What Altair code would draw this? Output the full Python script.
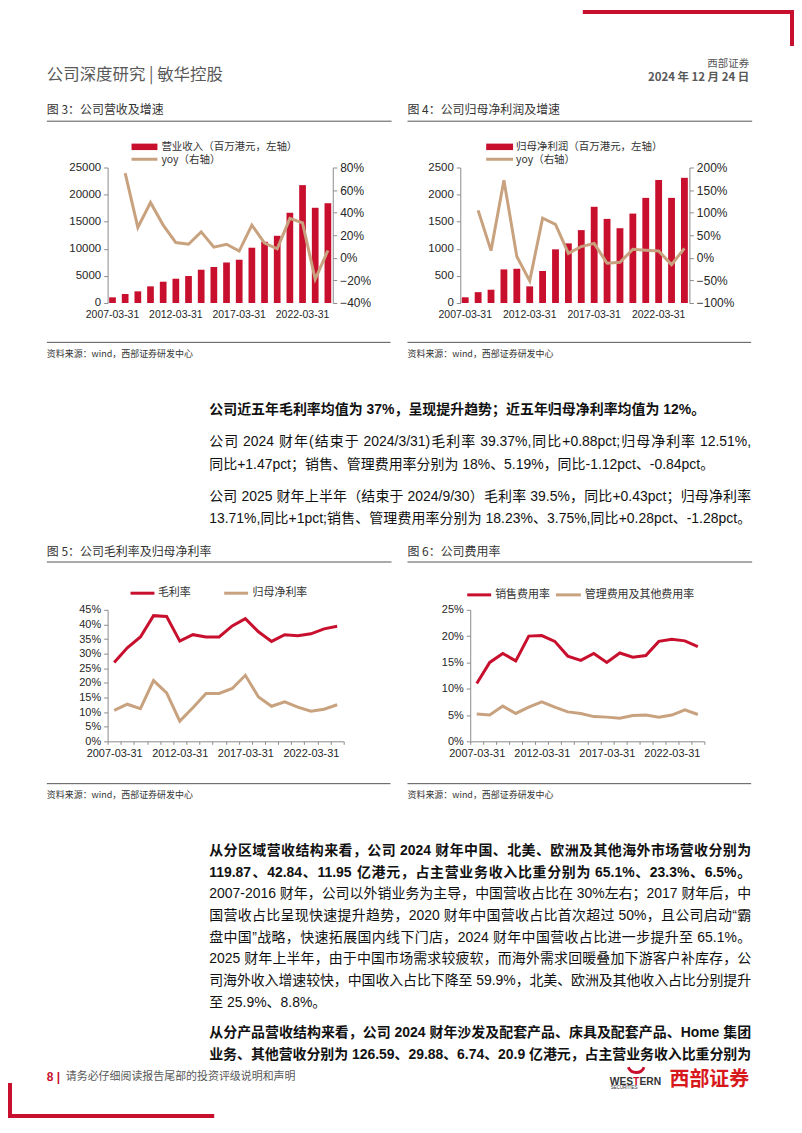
import json
import altair as alt
import pandas as pd

# ---------------- data ----------------
dates = ["2007-03-31", "2008-03-31", "2009-03-31", "2010-03-31", "2011-03-31", "2012-03-31",
         "2013-03-31", "2014-03-31", "2015-03-31", "2016-03-31", "2017-03-31", "2018-03-31",
         "2019-03-31", "2020-03-31", "2021-03-31", "2022-03-31", "2023-03-31", "2024-03-31"]
shown_dates = ["2007-03-31", "2012-03-31", "2017-03-31", "2022-03-31"]

revenue = [1040, 1660, 2150, 3070, 3930, 4480, 4975, 6140, 6630, 7490, 7985, 10200,
           11300, 12400, 16650, 21750, 17570, 18410]
revenue_yoy = [None, 0.75, 0.27, 0.49, 0.29, 0.135, 0.12, 0.23, 0.095, 0.12, 0.06, 0.29,
               0.13, 0.08, 0.35, 0.31, -0.19, 0.065]

profit = [105, 200, 245, 620, 632, 307, 590, 990, 1100, 1345, 1775, 1552,
          1380, 1650, 1940, 2270, 1940, 2310]
profit_yoy = [None, 1.05, 0.16, 1.72, 0.03, -0.51, 0.88, 0.74, 0.10, 0.25, 0.32, -0.12,
              -0.10, 0.19, 0.17, 0.15, -0.15, 0.21]

gross_margin = [0.27, 0.32, 0.357, 0.43, 0.427, 0.343, 0.365, 0.357, 0.357, 0.395, 0.42, 0.375,
                0.342, 0.365, 0.361, 0.368, 0.385, 0.3937]
net_margin = [0.106, 0.127, 0.112, 0.208, 0.166, 0.069, 0.115, 0.164, 0.164, 0.181, 0.226, 0.152,
              0.12, 0.135, 0.117, 0.103, 0.11, 0.1251]

selling_ratio = [0.11, 0.15, 0.167, 0.153, 0.20, 0.201, 0.19, 0.162, 0.154, 0.167, 0.15, 0.168,
                 0.16, 0.163, 0.19, 0.194, 0.191, 0.18]
admin_ratio = [0.052, 0.05, 0.067, 0.053, 0.065, 0.075, 0.065, 0.056, 0.053, 0.047, 0.046, 0.044,
               0.049, 0.05, 0.046, 0.05, 0.06, 0.051]

rev_ticks = [0, 5000, 10000, 15000, 20000, 25000]
rev_yoy_ticks = [-0.4, -0.2, 0, 0.2, 0.4, 0.6, 0.8]
np_ticks = [0, 500, 1000, 1500, 2000, 2500]
np_yoy_ticks = [-1.0, -0.5, 0, 0.5, 1.0, 1.5, 2.0]
margin_ticks = [0, 0.05, 0.10, 0.15, 0.20, 0.25, 0.30, 0.35, 0.40, 0.45]
expense_ticks = [0, 0.05, 0.10, 0.15, 0.20, 0.25]

# ---------------- texts ----------------
header_left = "公司深度研究 | 敏华控股"
header_broker = "西部证券"
header_date = "2024 年 12 月 24 日"
fig_titles = ["图 3：公司营收及增速", "图 4：公司归母净利润及增速",
              "图 5：公司毛利率及归母净利率", "图 6：公司费用率"]
legend3 = ["营业收入（百万港元，左轴）", "yoy（右轴）"]
legend4 = ["归母净利润（百万港元，左轴）", "yoy（右轴）"]
legend5 = ["毛利率", "归母净利率"]
legend6 = ["销售费用率", "管理费用及其他费用率"]
source_text = "资料来源：wind，西部证券研发中心"

para1_bold = ["公司近五年毛利率均值为 37%，呈现提升趋势；近五年归母净利率均值为 12%。"]
para1_a = ["公司 2024 财年(结束于 2024/3/31)毛利率 39.37%,同比+0.88pct;归母净利率 12.51%,",
           "同比+1.47pct；销售、管理费用率分别为 18%、5.19%，同比-1.12pct、-0.84pct。"]
para1_b = ["公司 2025 财年上半年（结束于 2024/9/30）毛利率 39.5%，同比+0.43pct；归母净利率",
           "13.71%,同比+1pct;销售、管理费用率分别为 18.23%、3.75%,同比+0.28pct、-1.28pct。"]
para2_bold = ["从分区域营收结构来看，公司 2024 财年中国、北美、欧洲及其他海外市场营收分别为",
              "119.87、42.84、11.95 亿港元，占主营业务收入比重分别为 65.1%、23.3%、6.5%。"]
para2 = ["2007-2016 财年，公司以外销业务为主导，中国营收占比在 30%左右；2017 财年后，中",
         "国营收占比呈现快速提升趋势，2020 财年中国营收占比首次超过 50%，且公司启动“霸",
         "盘中国”战略，快速拓展国内线下门店，2024 财年中国营收占比进一步提升至 65.1%。",
         "2025 财年上半年，由于中国市场需求较疲软，而海外需求回暖叠加下游客户补库存，公",
         "司海外收入增速较快，中国收入占比下降至 59.9%，北美、欧洲及其他收入占比分别提升",
         "至 25.9%、8.8%。"]
para3_bold = ["从分产品营收结构来看，公司 2024 财年沙发及配套产品、床具及配套产品、Home 集团",
              "业务、其他营收分别为 126.59、29.88、6.74、20.9 亿港元，占主营业务收入比重分别为"]
footer_page = "8 |"
footer_text = "请务必仔细阅读报告尾部的投资评级说明和声明"
logo_en = ["WES", "T", "ERN"]
logo_en_sub = "SECURITIES"
logo_cn = "西部证券"

# ---------------- styles ----------------
CJK = "Noto Sans CJK SC"
NUM = "Liberation Sans"
BODY = "Liberation Sans, Noto Sans CJK SC"
RED = "#C8102E"
TAN = "#C8A27E"
AX = "#8c8c8c"
LAB = "#262626"
INK = "#111111"
GRAY = "#595959"
SUB = "#333333"

TEXT_LEFT, TEXT_RIGHT = 210, 754

# Arial-metric advance widths (em) used for justified paragraph layout
W_REG = {"0": .556, "1": .556, "2": .556, "3": .556, "4": .556, "5": .556, "6": .556,
         "7": .556, "8": .556, "9": .556, ".": .278, ",": .278, ";": .278, ":": .278,
         "%": .889, "+": .584, "-": .333, "/": .278, "(": .333, ")": .333, "p": .556,
         "c": .5, "t": .278, "H": .722, "o": .556, "m": .833, "e": .556, " ": .278,
         "“": .333, "”": .333}
W_BOLD = dict(W_REG, **{"p": .611, "c": .556, "t": .333, "o": .611, "m": .889, ";": .333,
                        ":": .333})

ONE = pd.DataFrame({"k": [0]})
label_expr = f"indexof({json.dumps(shown_dates)}, datum.value) >= 0 ? datum.value : ''"


def layout_line(line, y, size, bold, justify):
    """Split a line into CJK characters and Latin runs, optionally justified."""
    table = W_BOLD if bold else W_REG
    toks, run = [], ""
    for c in line:
        if c == " ":
            if run:
                toks.append(run)
                run = ""
            toks.append(" ")
        elif ord(c) < 128:
            run += c
        else:
            if run:
                toks.append(run)
                run = ""
            toks.append(c)
    if run:
        toks.append(run)
    placed, cursor = [], 0.0
    for t in toks:
        if t == " ":
            cursor += table[" "] * size
            continue
        placed.append([t, cursor])
        cursor += sum(table.get(ch, 1.0 if ord(ch) > 255 else 0.556) for ch in t) * size
    extra = 0.0
    if justify and len(placed) > 1:
        extra = ((TEXT_RIGHT - TEXT_LEFT) - cursor) / (len(placed) - 1)
    return [{"t": t, "x": TEXT_LEFT + x + i * extra, "y": y} for i, (t, x) in enumerate(placed)]


class Panel:
    """Text / rule / rect items given in page coordinates.
    origin_y: page y of the panel origin; band: page y-range the row occupies."""

    def __init__(self, origin_y, band_top, band_bottom, width=786, height=None):
        self.oy = origin_y
        self.width = width
        self.height = height if height is not None else band_bottom - band_top
        self.items = [
            alt.Chart(ONE).mark_rect(opacity=0).encode(
                x=alt.value(0), x2=alt.value(780),
                y=alt.value(band_top - origin_y), y2=alt.value(band_bottom - origin_y))
        ]
        self.body = {False: [], True: []}

    def text(self, s, x, y, size=14, color=INK, weight="normal", align="left", font=CJK):
        self.items.append(
            alt.Chart(ONE).mark_text(text=s, fontSize=size, color=color, fontWeight=weight,
                                     align=align, baseline="middle", font=font)
            .encode(x=alt.value(x - 8), y=alt.value(y - self.oy)))

    def para(self, lines, ys, bold=False, justify_last=False):
        for i, (line, y) in enumerate(zip(lines, ys)):
            just = (i < len(lines) - 1) or justify_last
            self.body[bold] += layout_line(line, y, 14, bold, just)

    def hline(self, x1, x2, y, color="#555555", width=1.0):
        self.items.append(
            alt.Chart(ONE).mark_rule(color=color, strokeWidth=width)
            .encode(x=alt.value(x1 - 8), x2=alt.value(x2 - 8), y=alt.value(y - self.oy)))

    def rect(self, x1, x2, y1, y2, color=RED):
        self.items.append(
            alt.Chart(ONE).mark_rect(color=color)
            .encode(x=alt.value(x1 - 8), x2=alt.value(x2 - 8),
                    y=alt.value(y1 - self.oy), y2=alt.value(y2 - self.oy)))

    def arc(self, cx, cy, r1, r2, t1, t2, color=RED):
        self.items.append(
            alt.Chart(ONE).mark_arc(radius=r1, radius2=r2, theta=t1, theta2=t2, color=color)
            .encode(x=alt.value(cx - 8), y=alt.value(cy - self.oy)))

    def chart(self):
        items = list(self.items)
        for bold, rows in self.body.items():
            if not rows:
                continue
            df = pd.DataFrame(rows)
            df["x"] = df["x"] - 8
            df["y"] = df["y"] - self.oy
            items.append(
                alt.Chart(df).mark_text(align="left", baseline="middle", fontSize=14,
                                        font=BODY, color=INK,
                                        fontWeight="bold" if bold else "normal")
                .encode(x=alt.X("x:Q", scale=None, axis=None),
                        y=alt.Y("y:Q", scale=None, axis=None), text="t:N"))
        return alt.layer(*items).properties(width=self.width, height=self.height)


def spacer(w, h):
    return alt.Chart(ONE).mark_rect(opacity=0).encode(
        x=alt.value(0), x2=alt.value(w), y=alt.value(0), y2=alt.value(h)
    ).properties(width=w, height=h)


def left_axis(values, fmt, size):
    return alt.Axis(values=values, format=fmt, title=None, grid=False, domainColor=AX,
                    tickColor=AX, tickSize=4, labelFont=NUM, labelFontSize=size,
                    labelColor=LAB, labelPadding=3)


def bar_line_chart(vals, yoy, ydom, yticks, rdom, rticks, width, height):
    df = pd.DataFrame({"date": dates, "v": vals, "yoy": yoy})
    xenc = alt.X("date:O", sort=dates,
                 scale=alt.Scale(paddingInner=0.47, paddingOuter=0.12),
                 axis=alt.Axis(title=None, labelAngle=0, domain=False, ticks=False,
                               labelExpr=label_expr, labelOverlap=False, labelFont=NUM,
                               labelFontSize=10.5, labelColor=LAB, labelPadding=6.5))
    bars = alt.Chart(df).mark_bar(color=RED).encode(
        x=xenc,
        y=alt.Y("v:Q", scale=alt.Scale(domain=ydom, nice=False, zero=True),
                axis=left_axis(yticks, "d", 11.5)))
    line = alt.Chart(df).transform_filter("isValid(datum.yoy)").mark_line(
        color=TAN, strokeWidth=3).encode(
        x=xenc,
        y=alt.Y("yoy:Q", scale=alt.Scale(domain=rdom, nice=False, zero=False),
                axis=alt.Axis(orient="right", values=rticks, format=".0%", title=None,
                              grid=False, domainColor=AX, tickColor=AX, tickSize=4,
                              labelFont=NUM, labelFontSize=12, labelColor=LAB,
                              labelPadding=3)))
    return alt.layer(bars, line).resolve_scale(y="independent").properties(
        width=width, height=height)


def two_line_chart(s1, s2, names, ydom, yticks, width, height):
    df = pd.DataFrame({
        "date": dates * 2,
        "v": s1 + s2,
        "s": [names[0]] * len(dates) + [names[1]] * len(dates),
    })
    return alt.Chart(df).mark_line(strokeWidth=3).encode(
        x=alt.X("date:O", sort=dates,
                scale=alt.Scale(type="band", paddingInner=0, paddingOuter=0),
                axis=alt.Axis(title=None, labelAngle=0, domainColor=AX, tickColor=AX,
                              tickBand="extent", tickSize=3, labelExpr=label_expr,
                              labelOverlap=False, labelFont=NUM, labelFontSize=11,
                              labelColor=LAB, labelPadding=3)),
        y=alt.Y("v:Q", scale=alt.Scale(domain=ydom, nice=False),
                axis=left_axis(yticks, ".0%", 11)),
        color=alt.Color("s:N", scale=alt.Scale(domain=names, range=[RED, TAN]), legend=None),
    ).properties(width=width, height=height)


# ---------------- row 1 (page y 8-128): header, titles 3/4 ----------------
r1 = Panel(8, 8, 128)
r1.rect(585, 797, 8, 12)
r1.rect(793, 797, 8, 44)
r1.text(header_left, 47, 73, size=16.5, color=GRAY)
r1.text(header_broker, 752, 62, size=10.5, color=GRAY, align="right")
r1.text(header_date, 752, 76.5, size=11.5, color=GRAY, weight="bold", align="right")
r1.text(fig_titles[0], 47, 108, size=12, color=SUB)
r1.text(fig_titles[1], 409, 108, size=12, color=SUB)
r1.hline(47, 393, 119.5)
r1.hline(409, 755, 119.5)

# ---------------- row 2 (page y 128-326): legends + charts 3 & 4 ----------------
lg2 = Panel(166, 128, 326, width=100, height=136)
lg2.rect(132, 158, 142, 148.5)
lg2.text(legend3[0], 162, 145, size=10.5, color=SUB)
lg2.hline(132, 158, 157.7, color=TAN, width=3)
lg2.text(legend3[1], 162, 158, size=10.5, color=SUB)
lg2.rect(488, 515, 142, 148.5)
lg2.text(legend4[0], 518, 145, size=10.5, color=SUB)
lg2.hline(488, 515, 157.7, color=TAN, width=3)
lg2.text(legend4[1], 518, 158, size=10.5, color=SUB)

c3 = bar_line_chart(revenue, revenue_yoy, [0, 25000], rev_ticks, [-0.4, 0.8], rev_yoy_ticks, 226, 136)
c4 = bar_line_chart(profit, profit_yoy, [0, 2500], np_ticks, [-1.0, 2.0], np_yoy_ticks, 230, 136)
row2 = alt.hconcat(lg2.chart(), c3, spacer(128, 136), c4, spacing=0, bounds="flush")

# ---------------- row 3 (page y 326-572): sources, paragraph 1, titles 5/6 ----------------
r3 = Panel(326, 326, 572)
r3.hline(47, 392, 341.5)
r3.hline(409, 754, 341.5)
r3.text(source_text, 47, 353, size=9, color=SUB)
r3.text(source_text, 409, 353, size=9, color=SUB)
r3.para(para1_bold, [409], bold=True)
r3.para(para1_a, [441.5, 464.5])
r3.para(para1_b, [496.5, 519], justify_last=True)
r3.text(fig_titles[2], 47, 551.5, size=12, color=SUB)
r3.text(fig_titles[3], 409, 551.5, size=12, color=SUB)
r3.hline(47, 393, 562)
r3.hline(409, 755, 562)

# ---------------- row 4 (page y 572-768): legends + charts 5 & 6 ----------------
lg4 = Panel(610, 572, 768, width=100, height=132)
lg4.hline(131, 155, 593.3, color=RED, width=3)
lg4.text(legend5[0], 158.5, 593.3, size=11, color=SUB)
lg4.hline(225, 249, 593.3, color=TAN, width=3)
lg4.text(legend5[1], 253.5, 593.3, size=11, color=SUB)
lg4.hline(469, 493, 595, color=RED, width=3)
lg4.text(legend6[0], 497, 595, size=11, color=SUB)
lg4.hline(558, 583, 595, color=TAN, width=3)
lg4.text(legend6[1], 587, 595, size=11, color=SUB)

c5 = two_line_chart(gross_margin, net_margin, legend5, [0, 0.45], margin_ticks, 237, 132)
c6 = two_line_chart(selling_ratio, admin_ratio, legend6, [0, 0.25], expense_ticks, 235, 132)
row4 = alt.hconcat(lg4.chart(), c5, spacer(127, 132), c6, spacing=0, bounds="flush")

# ---------------- row 5 (page y 768-1120): sources, paragraphs 2/3, footer ----------------
r5 = Panel(768, 768, 1120)
r5.hline(47, 392, 784.5)
r5.hline(409, 754, 784.5)
r5.text(source_text, 47, 795.5, size=9, color=SUB)
r5.text(source_text, 409, 795.5, size=9, color=SUB)
r5.para(para2_bold, [852, 874], bold=True, justify_last=True)
r5.para(para2, [895.5, 917, 939, 961, 983, 1005])
r5.para(para3_bold, [1035, 1057], bold=True, justify_last=True)
r5.text(footer_page, 47, 1079, size=12, color=RED, weight="bold", font=NUM)
r5.text(footer_text, 66, 1079, size=11, color=GRAY)
r5.text(logo_en[0], 612, 1083.5, size=10.3, color=SUB, weight="bold", font=NUM)
r5.text(logo_en[1], 635.5, 1083.5, size=10.3, color=RED, weight="bold", font=NUM)
r5.text(logo_en[2], 641.8, 1083.5, size=10.3, color=SUB, weight="bold", font=NUM)
r5.arc(638.6, 1066, 10, 7, 1.95, 4.33)
r5.text(logo_en_sub, 613, 1090.5, size=4.5, color=SUB, font=NUM)
r5.text(logo_cn, 752, 1082, size=20, color="#D7191C", weight="bold", align="right")
r5.rect(8, 12, 1085, 1120)
r5.rect(8, 215, 1116, 1120)

page = alt.vconcat(r1.chart(), row2, r3.chart(), row4, r5.chart(), spacing=0).properties(
    padding=0, background="white"
).configure(font=CJK).configure_view(stroke=None)

page.save("out.html", embed_options={"renderer": "svg", "actions": False})
